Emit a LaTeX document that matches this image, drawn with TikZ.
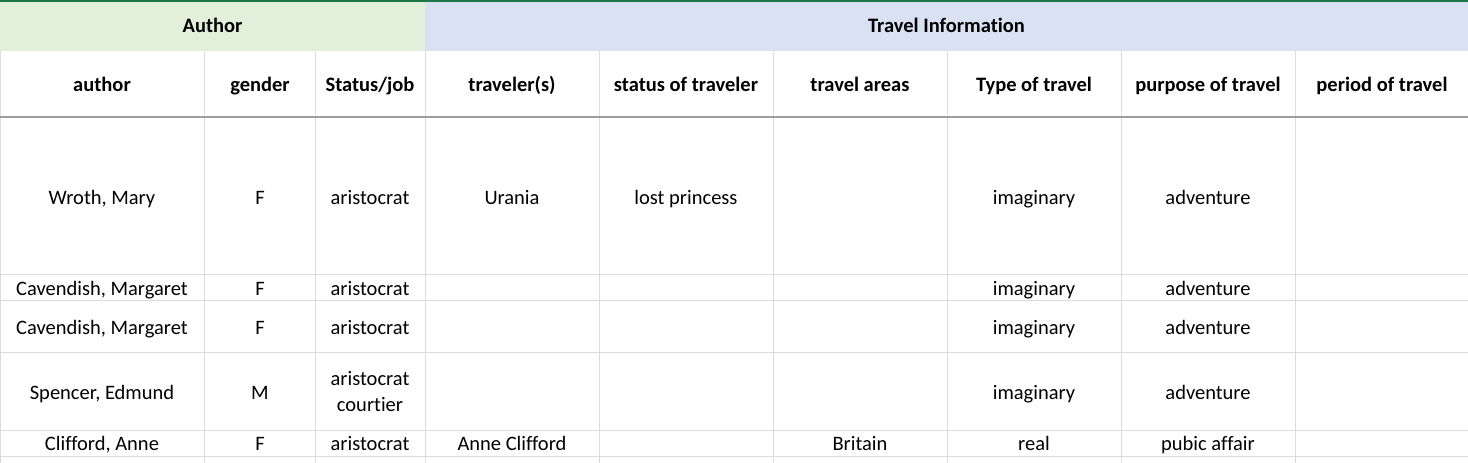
\documentclass[tikz,border=0pt]{standalone}
\usepackage{fontspec}
\setmainfont{Carlito}[Ligatures=NoCommon]
\usetikzlibrary{positioning}
\definecolor{excelgreen}{HTML}{217346}
\definecolor{authorgreen}{HTML}{E2EFDA}
\definecolor{travelblue}{HTML}{D9E1F2}
\definecolor{gridgray}{HTML}{DCDCDC}
\definecolor{headgray}{HTML}{9E9E9E}

\begin{document}
\begin{tikzpicture}[
x=1pt,y=-1pt,
cell/.style={
	anchor=base,
	inner sep=0pt,
	align=center,
	font=\fontsize{20.5}{26}\selectfont
},
headcell/.style={
	cell,
	font=\fontsize{20.5}{26}\selectfont\bfseries
},
gridline/.style={
	draw=gridgray,
	line width=1pt
}
]
\useasboundingbox (0,0) rectangle (1468,463);

\fill[authorgreen] (0,1) rectangle (425,51);
\fill[travelblue] (425,1) rectangle (1468,51);
\draw[excelgreen,line width=1.5pt] (0,0.75) -- (1468,0.75);

\foreach \x in {0.5,204,315,425,599,773,947,1121,1295}
\draw[gridline] (\x,51) -- (\x,463);
\foreach \y in {274,300,352,430,456}
\draw[gridline] (0,\y) -- (1468,\y);
\draw[draw=headgray,line width=1.2pt] (0,117) -- (1468,117);

\node[headcell] (author) at (212.5,32) {Author};
\node[headcell] (travel) at (946.5,32) {Travel Information};

\foreach \x/\t [count=\i] in {102/author,260/gender,370/{Status/job},512/traveler(s),
	686/status of traveler,860/travel areas,1034/Type of travel,1208/purpose of travel,
	1382/period of travel}
\node[headcell] (h\i) at (\x,91) {\t};

\foreach \x/\t [count=\i] in {102/{Wroth, Mary},260/F,370/aristocrat,512/Urania,
	686/lost princess,1034/imaginary,1208/adventure}
\node[cell] (a\i) at (\x,204) {\t};

\foreach \x/\t [count=\i] in {102/{Cavendish, Margaret},260/F,370/aristocrat,
	1034/imaginary,1208/adventure}
\node[cell] (b\i) at (\x,295) {\t};

\foreach \x/\t [count=\i] in {102/{Cavendish, Margaret},260/F,370/aristocrat,
	1034/imaginary,1208/adventure}
\node[cell] (c\i) at (\x,334) {\t};

\foreach \x/\t [count=\i] in {102/{Spencer, Edmund},260/M,1034/imaginary,1208/adventure}
\node[cell] (d\i) at (\x,399) {\t};
\node[cell,anchor=center] (d5) at (370,392) {aristocrat\\courtier};

\foreach \x/\t [count=\i] in {102/{Clifford, Anne},260/F,370/aristocrat,512/Anne Clifford,
	860/Britain,1034/real,1208/pubic affair}
\node[cell] (e\i) at (\x,450) {\t};
\end{tikzpicture}
\end{document}
